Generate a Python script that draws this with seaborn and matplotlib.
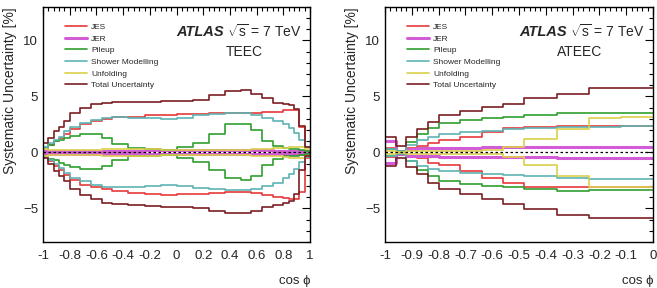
import numpy as np
import pandas as pd
import seaborn as sns
import matplotlib.pyplot as plt
from matplotlib.ticker import MultipleLocator

# bin edges in cos(phi)
teec_edges = [-1, -0.96, -0.92, -0.88, -0.84, -0.8, -0.72, -0.64, -0.56, -0.48, -0.36, -0.24, -0.12,
              0, 0.12, 0.24, 0.36, 0.48, 0.56, 0.64, 0.72, 0.8, 0.84, 0.88, 0.92, 0.96, 1]
ateec_edges = [-1, -0.96, -0.92, -0.88, -0.84, -0.8, -0.72, -0.64, -0.56, -0.48, -0.36, -0.24, -0.12, 0]

sources = ["JES", "JER", "Pileup", "Shower Modelling", "Unfolding", "Total Uncertainty"]

# TEEC uncertainties [%], upper / lower per bin
teec_jes_up = [0.4, 0.7, 1.0, 1.3, 1.6, 2.1, 2.5, 2.8, 3.0, 3.15, 3.2, 3.3, 3.35,
               3.4, 3.45, 3.5, 3.5, 3.55, 3.55, 3.6, 3.65, 3.8, 3.8, 3.8, 2.3, 0.5]
teec_jes_dn = [-0.4, -0.8, -1.2, -1.6, -2.0, -2.5, -2.9, -3.1, -3.3, -3.45, -3.6, -3.7, -3.8,
               -3.75, -3.7, -3.6, -3.5, -3.5, -3.6, -3.8, -4.0, -4.1, -4.2, -4.2, -3.5, -0.5]
teec_jer_up = [0.15, 0.15, 0.15, 0.15, 0.15, 0.15, 0.15, 0.15, 0.15, 0.15, 0.15, 0.2, 0.2,
               0.2, 0.2, 0.2, 0.2, 0.2, 0.2, 0.2, 0.15, 0.15, 0.15, 0.15, 0.15, 0.15]
teec_jer_dn = [-0.15, -0.15, -0.15, -0.15, -0.15, -0.15, -0.15, -0.15, -0.15, -0.15, -0.15, -0.15, -0.15,
               -0.15, -0.15, -0.15, -0.15, -0.15, -0.15, -0.15, -0.15, -0.15, -0.15, -0.15, -0.15, -0.15]
teec_pu_up = [0.4, 0.7, 1.0, 1.1, 1.3, 1.5, 1.6, 1.6, 1.3, 0.75, 0.35, 0.3, 0.2,
              0.5, 0.85, 1.6, 2.5, 2.5, 2.0, 1.05, 0.6, 0.35, 0.3, 0.3, 0.2, 0.1]
teec_pu_dn = [-0.35, -0.55, -0.7, -0.95, -1.1, -1.3, -1.45, -1.45, -1.2, -0.65, -0.35, -0.3, -0.2,
              -0.5, -0.85, -1.6, -2.3, -2.5, -2.1, -1.1, -0.6, -0.35, -0.3, -0.3, -0.2, -0.1]
teec_sh_up = [0.5, 0.8, 1.1, 1.4, 1.9, 2.3, 2.6, 2.9, 3.1, 3.15, 3.1, 3.05, 3.0,
              3.1, 3.3, 3.4, 3.5, 3.5, 3.3, 3.1, 2.8, 2.5, 2.2, 1.7, 1.1, 0.5]
teec_sh_dn = [-0.35, -0.65, -1.0, -1.4, -1.85, -2.3, -2.6, -2.95, -3.1, -3.1, -3.05, -3.0, -2.9,
              -3.0, -3.2, -3.3, -3.4, -3.4, -3.3, -3.0, -2.7, -2.3, -1.9, -1.5, -0.9, -0.4]
teec_unf_up = [0.3, 0.25, 0.25, 0.25, 0.25, 0.25, 0.25, 0.25, 0.3, 0.3, 0.3, 0.3, 0.25,
               0.25, 0.25, 0.25, 0.25, 0.25, 0.3, 0.3, 0.35, 0.4, 0.5, 0.5, 0.5, 0.3]
teec_unf_dn = [-0.3, -0.25, -0.25, -0.25, -0.25, -0.25, -0.25, -0.25, -0.3, -0.3, -0.3, -0.3, -0.25,
               -0.25, -0.25, -0.25, -0.25, -0.25, -0.3, -0.3, -0.35, -0.4, -0.5, -0.5, -0.5, -0.3]
teec_tot_up = [0.85, 1.3, 1.9, 2.3, 2.8, 3.5, 4.0, 4.35, 4.45, 4.5, 4.5, 4.5, 4.55,
               4.6, 4.65, 5.15, 5.5, 5.55, 5.2, 4.85, 4.45, 4.3, 4.2, 3.9, 2.4, 0.5]
teec_tot_dn = [-0.5, -1.0, -1.7, -2.1, -2.6, -3.3, -3.8, -4.2, -4.5, -4.6, -4.7, -4.75, -4.85,
               -4.9, -5.0, -5.2, -5.45, -5.45, -5.2, -4.9, -4.7, -4.5, -4.3, -3.7, -1.6, -0.3]

# ATEEC uncertainties [%]
ateec_jes_up = [0.4, 0.15, 0.4, 0.55, 0.85, 1.1, 1.4, 1.8, 2.15, 2.3, 2.35, 2.35, 2.35]
ateec_jes_dn = [-0.4, -0.15, -0.35, -0.5, -0.95, -1.15, -1.7, -2.3, -2.75, -3.05, -3.05, -3.1, -3.05]
ateec_jer_up = [1.0, 0.15, 0.3, 0.35, 0.35, 0.4, 0.4, 0.45, 0.45, 0.5, 0.5, 0.5, 0.5]
ateec_jer_dn = [-0.95, -0.15, -0.3, -0.35, -0.35, -0.4, -0.4, -0.45, -0.45, -0.45, -0.5, -0.5, -0.5]
ateec_pu_up = [0.3, 0.1, 0.9, 1.6, 2.2, 2.65, 2.9, 3.05, 3.15, 3.3, 3.5, 3.55, 3.5]
ateec_pu_dn = [-0.3, -0.1, -0.8, -1.6, -2.1, -2.6, -2.8, -3.0, -3.1, -3.3, -3.45, -3.4, -3.4]
ateec_sh_up = [0.3, 0.1, 0.7, 1.1, 1.4, 1.6, 1.8, 1.95, 2.05, 2.15, 2.3, 2.3, 2.35]
ateec_sh_dn = [-0.3, -0.1, -0.8, -1.25, -1.5, -1.7, -1.8, -1.9, -2.0, -2.15, -2.3, -2.35, -2.4]
ateec_unf_up = [0.1, 0.05, 0.1, 0.1, 0.1, 0.1, 0.1, 0.2, 0.5, 1.2, 2.1, 3.05, 3.2]
ateec_unf_dn = [-0.1, -0.05, -0.1, -0.1, -0.1, -0.1, -0.15, -0.15, -0.4, -1.1, -2.15, -3.05, -3.05]
ateec_tot_up = [1.35, 0.55, 1.4, 2.1, 2.7, 3.3, 3.7, 4.05, 4.35, 4.85, 5.25, 5.75, 5.75]
ateec_tot_dn = [-1.25, -0.5, -1.3, -1.9, -2.7, -3.3, -3.7, -4.2, -4.65, -5.1, -5.55, -5.9, -5.9]

colors = {"JES": "#e8393a", "JER": "#d25cd6", "Pileup": "#2f9e2f",
          "Shower Modelling": "#5db3b3", "Unfolding": "#dccf4c", "Total Uncertainty": "#7b1f24"}
widths = {"JES": 1.2, "JER": 2.2, "Pileup": 1.2, "Shower Modelling": 1.2,
          "Unfolding": 1.2, "Total Uncertainty": 1.2}

teec = {"JES": (teec_jes_up, teec_jes_dn), "JER": (teec_jer_up, teec_jer_dn),
        "Pileup": (teec_pu_up, teec_pu_dn), "Shower Modelling": (teec_sh_up, teec_sh_dn),
        "Unfolding": (teec_unf_up, teec_unf_dn), "Total Uncertainty": (teec_tot_up, teec_tot_dn)}
ateec = {"JES": (ateec_jes_up, ateec_jes_dn), "JER": (ateec_jer_up, ateec_jer_dn),
         "Pileup": (ateec_pu_up, ateec_pu_dn), "Shower Modelling": (ateec_sh_up, ateec_sh_dn),
         "Unfolding": (ateec_unf_up, ateec_unf_dn), "Total Uncertainty": (ateec_tot_up, ateec_tot_dn)}

sns.set_theme(style="white")
plt.rcParams["font.family"] = ["Liberation Sans", "DejaVu Sans"]
plt.rcParams["mathtext.fontset"] = "custom"
plt.rcParams["mathtext.rm"] = "Liberation Sans"
plt.rcParams["mathtext.it"] = "Liberation Sans:italic"

fig = plt.figure(figsize=(6.57, 2.88), dpi=100)
ax1 = fig.add_axes([0.0655, 0.16, 0.4065, 0.816])
ax2 = fig.add_axes([0.586, 0.16, 0.408, 0.816])


def draw_panel(ax, edges, data, xmaj, xmin_step):
    handles = []
    for src in sources:
        up, dn = data[src]
        for vals in (up, dn):
            df = pd.DataFrame({"cos": edges, "unc": list(vals) + [vals[-1]]})
            sns.lineplot(data=df, x="cos", y="unc", drawstyle="steps-post", color=colors[src],
                         lw=widths[src], ax=ax, estimator=None, sort=False)
        handles.append(plt.Line2D([], [], color=colors[src], lw=widths[src], label=src))
    ax.axhline(0, color="black", ls=(0, (2, 2)), lw=0.9, zorder=5)
    ax.set_xlim(edges[0], edges[-1])
    ax.set_ylim(-8, 13)
    ax.xaxis.set_minor_locator(MultipleLocator(xmin_step))
    ax.yaxis.set_major_locator(MultipleLocator(5))
    ax.yaxis.set_minor_locator(MultipleLocator(1))
    ticks = np.round(np.arange(edges[0], edges[-1] + 1e-9, xmaj), 2)
    ax.set_xticks(ticks)
    ax.set_xticklabels(["%d" % round(t) if abs(t - round(t)) < 1e-9 else "%.1f" % t for t in ticks])
    ax.tick_params(which="both", direction="in", top=True, right=True, labelsize=9.5,
                   color="black", width=0.8)
    ax.tick_params(which="major", length=6)
    ax.tick_params(which="minor", length=3)
    ax.tick_params(axis="x", pad=6)
    for sp in ax.spines.values():
        sp.set_color("black")
        sp.set_linewidth(1.0)
    ax.set_ylabel("Systematic Uncertainty [%]", loc="top", fontsize=10, labelpad=4)
    ax.set_xlabel("cos ϕ", loc="right", fontsize=9.5, labelpad=9)
    ax.legend(handles=handles, loc="upper left", bbox_to_anchor=(0.07, 0.944),
              frameon=False, fontsize=6, handlelength=2.6, handletextpad=0.55,
              labelspacing=0.45, borderaxespad=0)
    ax.text(0.5, 0.895, "ATLAS", transform=ax.transAxes, fontsize=10.5,
            fontweight="bold", fontstyle="italic", va="center", ha="left")
    ax.text(0.69, 0.895, r"$\sqrt{\mathrm{s}}$ = 7 TeV", transform=ax.transAxes,
            fontsize=10, va="center", ha="left")


draw_panel(ax1, teec_edges, teec, 0.2, 0.04)
draw_panel(ax2, ateec_edges, ateec, 0.1, 0.02)
ax1.text(0.755, 0.808, "TEEC", transform=ax1.transAxes, fontsize=10, ha="center", va="center")
ax2.text(0.727, 0.808, "ATEEC", transform=ax2.transAxes, fontsize=10, ha="center", va="center")

fig.savefig("out.png", dpi=100)
